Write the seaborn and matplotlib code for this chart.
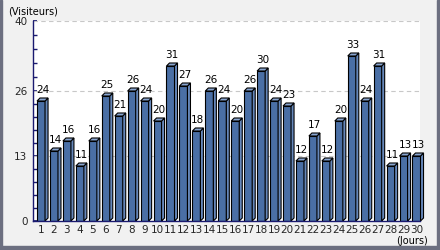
import matplotlib
matplotlib.use("Agg")
import matplotlib.pyplot as plt
import seaborn as sns
import pandas as pd
from matplotlib.patches import Polygon, Rectangle
from matplotlib.ticker import FixedLocator

days = [str(i) for i in range(1, 31)]
visitors = [24, 14, 16, 11, 16, 25, 21, 26, 24, 20, 31, 27, 18, 26, 24, 20,
            26, 30, 24, 23, 12, 17, 12, 20, 33, 24, 31, 11, 13, 13]
yticks = [0, 13, 26, 40]

sns.set_theme(style="white")
plt.rcParams['font.family'] = ['DejaVu Sans']

df = pd.DataFrame({"day": days, "visitors": visitors})

fig = plt.figure(figsize=(4.4, 2.5), dpi=100)
fig.patch.set_facecolor("#f1f1f1")
ax = fig.add_axes([33/440, 1-221/250, (420-33)/440, 200/250])
ax.set_facecolor("white")

front = "#4a6fa5"
side = "#6688bb"
top = "#89a5d0"
sns.barplot(data=df, x="day", y="visitors", color=front, width=0.62,
            saturation=1, edgecolor="black", linewidth=0.8, ax=ax, zorder=3)

ax.set_xlim(-0.62, 29.27)
ax.set_ylim(0, 40)

# 3D depth faces
fig.canvas.draw()
bbox = ax.get_window_extent()
ppx = bbox.width / (ax.get_xlim()[1] - ax.get_xlim()[0])
ppy = bbox.height / (ax.get_ylim()[1] - ax.get_ylim()[0])
dxd = 3.0 / ppx
dyd = 3.0 / ppy
for p in ax.patches[:]:
    x0 = p.get_x(); w = p.get_width(); h = p.get_height()
    ax.add_patch(Polygon([(x0+w, 0), (x0+w+dxd, dyd), (x0+w+dxd, h+dyd), (x0+w, h)],
                         closed=True, facecolor=side, edgecolor="black", linewidth=0.8,
                         zorder=3, clip_on=False))
    ax.add_patch(Polygon([(x0, h), (x0+dxd, h+dyd), (x0+w+dxd, h+dyd), (x0+w, h)],
                         closed=True, facecolor=top, edgecolor="black", linewidth=0.8,
                         zorder=3, clip_on=False))
    ax.text(x0 + w/2 + dxd/2, h + dyd + 0.6, f"{int(round(h))}", ha="center", va="bottom",
            fontsize=7.5, color="black", zorder=4)

ax.set_yticks(yticks)
ax.yaxis.set_minor_locator(FixedLocator([2.6, 5.2, 7.8, 10.4, 15.6, 18.2, 20.8, 23.4,
                                         28.8, 31.6, 34.4, 37.2]))
ax.tick_params(axis="y", which="major", direction="in", length=3, color="#1a1a70",
               labelsize=7.5, pad=4, left=True)
ax.tick_params(axis="y", which="minor", direction="in", length=3, color="#1a1a70", left=True)
ax.tick_params(axis="x", which="major", length=0, labelsize=7.5, pad=3)
for y in yticks[1:]:
    ax.axhline(y, color="#c8c8c8", linestyle=(0, (4, 3)), linewidth=0.8, zorder=1)

for s in ["top", "right"]:
    ax.spines[s].set_visible(False)
for s in ["left", "bottom"]:
    ax.spines[s].set_color("#1a1a70")
    ax.spines[s].set_linewidth(1.0)
    ax.spines[s].set_zorder(5)

ax.set_xlabel("")
ax.set_ylabel("")
fig.text(33/440, 1-12/250, "(Visiteurs)", ha="center", va="center", fontsize=7, color="black")
fig.text(428/440, 1-241/250, "(Jours)", ha="right", va="center", fontsize=7, color="black")

# window-like frame
fc = "#6c6f80"
fig.patches.append(Rectangle((0, 0), 2/440, 1, transform=fig.transFigure, color=fc, zorder=0))
fig.patches.append(Rectangle((437/440, 0), 3/440, 1, transform=fig.transFigure, color=fc, zorder=0))
fig.patches.append(Rectangle((0, 0), 1, 4/250, transform=fig.transFigure, color=fc, zorder=0))

fig.savefig("out.png", dpi=100, facecolor=fig.get_facecolor())
